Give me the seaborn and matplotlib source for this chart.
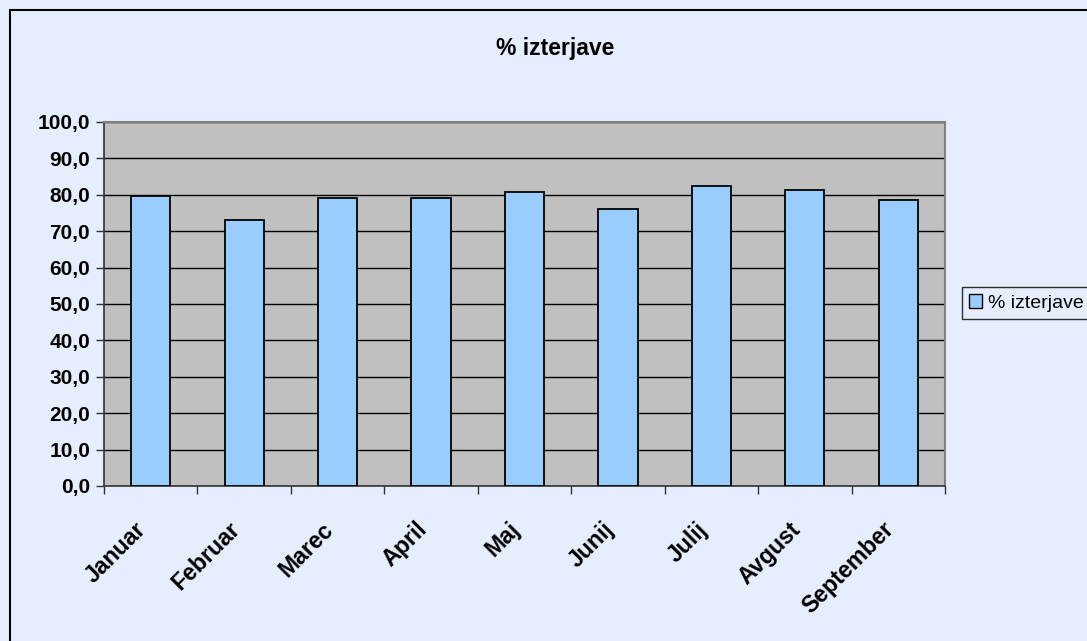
import matplotlib
matplotlib.use("Agg")
import matplotlib.pyplot as plt
from matplotlib.patches import Patch
from matplotlib.lines import Line2D
from matplotlib.ticker import FuncFormatter, MultipleLocator, FixedLocator
from matplotlib.transforms import ScaledTranslation
import seaborn as sns
import pandas as pd

months = ["Januar", "Februar", "Marec", "April", "Maj", "Junij", "Julij", "Avgust", "September"]
values = [79.7, 73.2, 79.2, 79.2, 80.9, 76.0, 82.4, 81.4, 78.6]
series_name = "% izterjave"
title = "% izterjave"

bg = "#E6EDFD"
plot_bg = "#C0C0C0"
bar_color = "#99CCFF"

sns.set_style("white")
plt.rcParams["font.family"] = ["Liberation Sans", "DejaVu Sans"]
plt.rcParams["text.color"] = "black"

df = pd.DataFrame({"month": months, "value": values})

fig = plt.figure(figsize=(10.87, 6.41), dpi=100, facecolor=bg)
ax = fig.add_axes([104 / 1087, 155 / 641, 841 / 1087, 364 / 641])
ax.set_facecolor(plot_bg)

sns.barplot(data=df, x="month", y="value", color=bar_color, edgecolor="black",
            linewidth=1.3, width=0.42, saturation=1, ax=ax, zorder=3)

ax.set_xlim(-0.5, len(months) - 0.5)
ax.set_ylim(0, 100)
ax.yaxis.set_major_locator(MultipleLocator(10))
ax.yaxis.set_major_formatter(FuncFormatter(lambda v, _: f"{v:.1f}".replace(".", ",")))
ax.grid(axis="y", color="black", linewidth=1.0, zorder=1)
ax.set_axisbelow(True)

ax.set_xlabel("")
ax.set_ylabel("")

# category labels at centres, tick marks at the category boundaries
ax.xaxis.set_minor_locator(FixedLocator([i - 0.5 for i in range(len(months) + 1)]))
ax.tick_params(axis="x", which="major", length=0, pad=23, labelcolor="black")
ax.tick_params(axis="x", which="minor", length=6, width=1, color="#333333", direction="out", bottom=True)
ax.tick_params(axis="y", which="major", length=6, width=1, color="#333333", direction="out",
               left=True, pad=4, labelcolor="black")

shift = ScaledTranslation(-16 / 100, 0, fig.dpi_scale_trans)
for lbl in ax.get_xticklabels():
    lbl.set_rotation(45)
    lbl.set_ha("right")
    lbl.set_rotation_mode("anchor")
    lbl.set_fontsize(16.7)
    lbl.set_fontweight("bold")
    lbl.set_transform(lbl.get_transform() + shift)
for lbl in ax.get_yticklabels():
    lbl.set_fontsize(15)
    lbl.set_fontweight("bold")

for side in ["left", "bottom"]:
    ax.spines[side].set_color("#333333")
    ax.spines[side].set_linewidth(1.2)
for side in ["top", "right"]:
    ax.spines[side].set_color("#808080")
    ax.spines[side].set_linewidth(1.5)

fig.text(555 / 1087, 1 - 48 / 641, title, ha="center", va="center",
         fontsize=16.5, fontweight="bold", color="black")

handle = Patch(facecolor=bar_color, edgecolor="black", linewidth=1.0)
leg = fig.legend([handle], [series_name], loc="center left",
                 bbox_to_anchor=(962 / 1087, 1 - 303 / 641),
                 frameon=True, fancybox=False, facecolor=bg, edgecolor="black",
                 fontsize=14, handlelength=0.7, handleheight=0.7, handletextpad=0.3,
                 borderpad=0.35, borderaxespad=0)
leg.get_frame().set_linewidth(1.0)
for t in leg.get_texts():
    t.set_color("black")

# outer chart frame
fig.add_artist(Line2D([9.5 / 1087, 9.5 / 1087], [0, 1 - 10 / 641], color="black", lw=1.5,
                      transform=fig.transFigure))
fig.add_artist(Line2D([9.5 / 1087, 1], [1 - 10 / 641, 1 - 10 / 641], color="black", lw=1.5,
                      transform=fig.transFigure))

fig.savefig("out.png", dpi=100, facecolor=bg)
